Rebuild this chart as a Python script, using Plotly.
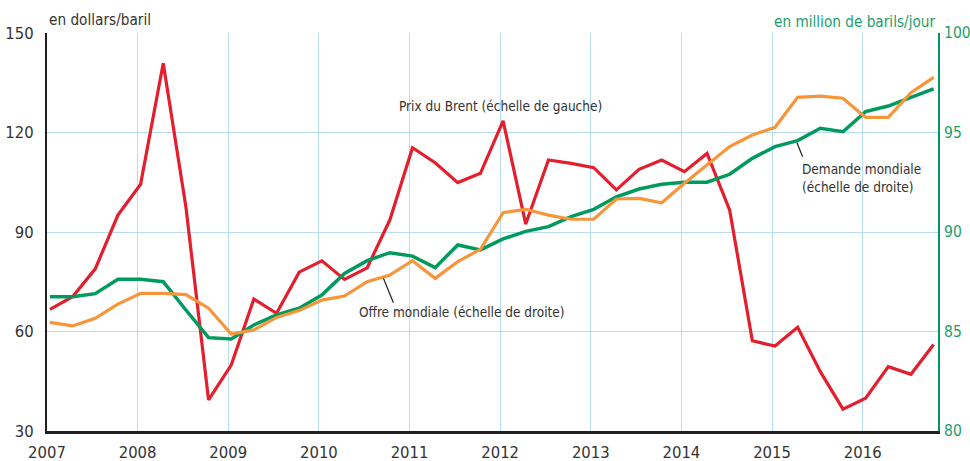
import plotly.graph_objects as go

# Quarterly data, 2007 Q1 .. 2016 Q4
start_year = 2007
n_quarters = 40

brent = [66.7, 70.5, 78.9, 95.1, 104.4, 140.9, 97.6, 39.4, 49.9, 69.8,
         65.5, 77.9, 81.3, 75.7, 79.2, 93.6, 115.4, 110.9, 104.9, 107.7,
         123.5, 92.4, 111.7, 110.7, 109.4, 102.7, 108.9, 111.7, 108.2, 113.7,
         96.6, 57.2, 55.6, 61.3, 47.9, 36.6, 39.9, 49.4, 47.1, 56.1]

demande = [86.75, 86.75, 86.90, 87.62, 87.62, 87.50, 86.08, 84.69, 84.62, 85.33,
           85.83, 86.17, 86.83, 87.92, 88.56, 88.96, 88.79, 88.21, 89.35, 89.10,
           89.65, 90.03, 90.27, 90.77, 91.14, 91.77, 92.16, 92.40, 92.50, 92.50,
           92.90, 93.70, 94.29, 94.59, 95.21, 95.04, 96.05, 96.33, 96.77, 97.19]

offre = [85.46, 85.28, 85.66, 86.38, 86.92, 86.92, 86.85, 86.17, 84.87, 85.08,
         85.71, 86.05, 86.58, 86.78, 87.50, 87.84, 88.56, 87.67, 88.51, 89.13,
         90.97, 91.14, 90.85, 90.64, 90.64, 91.66, 91.69, 91.47, 92.45, 93.37,
         94.29, 94.87, 95.26, 96.77, 96.83, 96.72, 95.76, 95.76, 97.00, 97.77]

year_ticks = list(range(2007, 2017))
left_ticks = [30, 60, 90, 120, 150]
right_ticks = [80, 85, 90, 95, 100]

x = [start_year + (i + 0.13) / 4 for i in range(n_quarters)]

FONT = "DejaVu Sans Condensed, Liberation Sans Narrow, Arial Narrow, sans-serif"
RED = "#e41f2d"
GREEN = "#009a5f"
ORANGE = "#f7953b"
GREEN_TXT = "#1c9e6c"
GRID = "#b7dbf2"
TXT = "#333333"

fig = go.Figure()
fig.add_trace(go.Scatter(x=x, y=demande, mode="lines", yaxis="y2",
                         line=dict(color=GREEN, width=3.5), showlegend=False))
fig.add_trace(go.Scatter(x=x, y=offre, mode="lines", yaxis="y2",
                         line=dict(color=ORANGE, width=3.2), showlegend=False))
fig.add_trace(go.Scatter(x=x, y=brent, mode="lines", yaxis="y",
                         line=dict(color=RED, width=3.2), showlegend=False))

fig.update_layout(
    width=970, height=461,
    margin=dict(l=47, r=32, t=33, b=30),
    paper_bgcolor="white", plot_bgcolor="white",
    font=dict(family=FONT, color=TXT, size=16),
    xaxis=dict(range=[2007, 2016.831], tickvals=year_ticks,
               ticktext=[str(y) for y in year_ticks],
               showgrid=True, gridcolor=GRID, gridwidth=1.3,
               showline=True, linecolor="#231f20", linewidth=3,
               ticks="", ticklabelstandoff=4, zeroline=False, automargin=False,
               tickfont=dict(size=16.5, color=TXT, family=FONT)),
    yaxis=dict(range=[30, 150], tickvals=left_ticks,
               showgrid=True, gridcolor=GRID, gridwidth=1.3,
               showline=True, linecolor="#231f20", linewidth=2,
               ticks="", ticklabelstandoff=8, zeroline=False, automargin=False,
               tickfont=dict(size=16.5, color=TXT, family=FONT)),
    yaxis2=dict(range=[80, 100], tickvals=right_ticks, overlaying="y",
                side="right", showgrid=False, zeroline=False, automargin=False,
                showline=True, linecolor=GREEN, linewidth=2,
                ticks="", ticklabelstandoff=1,
                tickfont=dict(size=15.5, color=GREEN_TXT, family=FONT)),
)

ann = dict(showarrow=False, font=dict(family=FONT, size=13.5, color=TXT))
fig.add_annotation(text="en dollars/baril", xref="paper", yref="paper",
                   x=0, y=1, xanchor="left", yanchor="bottom", yshift=2,
                   showarrow=False, font=dict(family=FONT, size=15.2, color=TXT))
fig.add_annotation(text="en million de barils/jour", xref="paper", yref="paper",
                   x=1, y=1, xanchor="right", yanchor="bottom", yshift=0, xshift=-1,
                   showarrow=False, font=dict(family=FONT, size=15.2, color=GREEN_TXT))
fig.add_annotation(text="Prix du Brent (échelle de gauche)", x=2012.0, y=128.0,
                   xref="x", yref="y", xanchor="center", yanchor="middle", **ann)
fig.add_annotation(text="Offre mondiale (échelle de droite)", x=2010.418, y=65.8,
                   xref="x", yref="y", xanchor="left", yanchor="middle", **ann)
fig.add_annotation(text="Demande mondiale<br>(échelle de droite)", x=2015.303, y=106.35,
                   xref="x", yref="y", xanchor="left", yanchor="middle", align="left",
                   showarrow=False, font=dict(family=FONT, size=13.5, color=TXT))

# leader lines
fig.add_shape(type="line", xref="x", yref="y", x0=2010.712, y0=76.05, x1=2010.822, y1=68.69,
              line=dict(color="#231f20", width=1.2))
fig.add_shape(type="line", xref="x", yref="y", x0=2015.275, y0=116.93, x1=2015.337, y1=112.71,
              line=dict(color="#231f20", width=1.2))

fig.write_html("out.html", config={"displayModeBar": False},
               post_script="document.body.style.margin='0';document.body.style.padding='0';document.body.style.overflow='hidden';")
